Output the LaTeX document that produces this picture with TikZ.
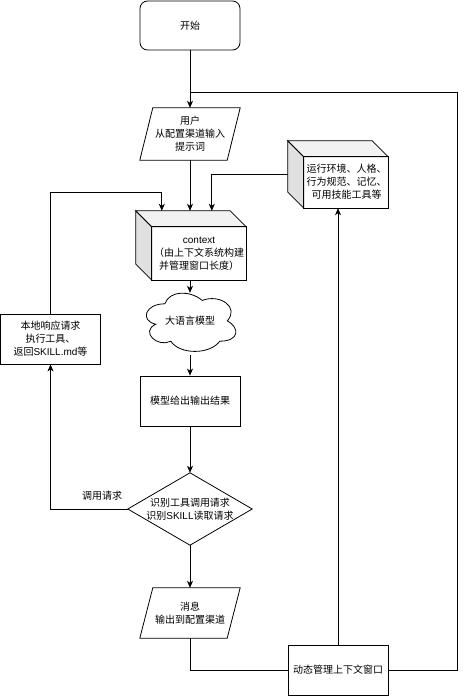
\documentclass[tikz,border=0pt]{standalone}
\usepackage{fontspec}
\setmainfont{Noto Sans CJK SC}
\newfontfamily\lat{Liberation Sans}
\usetikzlibrary{arrows.meta,positioning}

% outline helpers, drawn from the anchors of a plain node
\newcommand{\cubeshape}[2]{%
  \filldraw[ln, fill=black!12] (#1.north west) -- ++(#2,#2) -- ([xshift=#2pt]#1.south west) -- ([yshift=#2pt]#1.south west) -- cycle;
  \filldraw[ln, fill=black!5] (#1.north west) -- ([xshift=-#2pt]#1.north east) -- ([yshift=-#2pt]#1.north east) -- ([shift={(#2,#2)}]#1.north west) -- cycle;
  \draw[ln] ([shift={(#2,#2)}]#1.north west) rectangle (#1.south east);}
\newcommand{\paraShape}[2]{%
  \draw[ln] ([xshift=#2pt]#1.north west) -- (#1.north east) -- ([xshift=-#2pt]#1.south east) -- (#1.south west) -- cycle;}

\tikzset{
  every node/.style={font=\fontsize{10}{13}\selectfont, align=center, inner sep=0pt},
  ln/.style={line width=0.8pt},
  arr/.style={ln, -{Stealth[length=7pt,width=6pt,inset=2pt]}},
  stepbox/.style={draw, ln, minimum width=100pt, minimum height=50pt},
  frame/.style={minimum width=#1},
}

\begin{document}
\begin{tikzpicture}[x=1pt, y=-1pt]
  \useasboundingbox (0,0) rectangle (464,697);

  % nodes
  \node[stepbox, rounded corners=7.5pt, minimum height=49pt] (start) at (190,25.5) {开始};
  \node[frame=100pt, minimum height=52pt] (user) at (190,134) {用户\\从配置渠道输入\\提示词};
  \node[frame=110pt, minimum height=69pt] (ctx) at (191,245.5) {};
  \node (ctxtext) at (199,253.5) {{\lat context}\\（由上下文系统构建\\并管理窗口长度）};
  \node[frame=100pt, minimum height=67pt] (env) at (338,174.5) {};
  \node (envtext) at (346.5,182) {运行环境、人格、\\行为规范、记忆、\\可用技能工具等};
  \node[frame=100pt, minimum height=68pt] (llm) at (190,321) {大语言模型};
  \node[stepbox] (out) at (190,401) {模型给出输出结果};
  \node[frame=124pt, minimum height=72pt] (dec) at (190,509) {识别工具调用请求\\识别{\lat SKILL}读取请求};
  \node[stepbox] (local) at (50.5,339) {本地响应请求\\执行工具、\\返回{\lat SKILL.md}等};
  \node[frame=100pt, minimum height=50pt] (msg) at (190,613) {消息\\输出到配置渠道};
  \node[stepbox] (dyn) at (338,670) {动态管理上下文窗口};
  \node (calllbl) at (102,496) {调用请求};

  % outlines
  \paraShape{user}{13}
  \paraShape{msg}{13}
  \cubeshape{ctx}{16}
  \cubeshape{env}{16}
  \draw[ln] (dec.north) -- (dec.east) -- (dec.south) -- (dec.west) -- cycle;
  \begin{scope}[shift={(llm.north west)}, x=100pt, y=-68pt]
    \draw[ln] (0.25,0.25) .. controls (0.05,0.25) and (0,0.5) .. (0.16,0.55)
      .. controls (0,0.66) and (0.18,0.9) .. (0.31,0.8)
      .. controls (0.4,1) and (0.7,1) .. (0.8,0.8)
      .. controls (1,0.8) and (1,0.6) .. (0.875,0.5)
      .. controls (1,0.3) and (0.8,0.1) .. (0.625,0.2)
      .. controls (0.5,0.05) and (0.3,0.05) .. (0.25,0.25) -- cycle;
  \end{scope}

  % connectors
  \coordinate (loopcorner) at (457,92);
  \coordinate (ctxinL) at ([xshift=26pt]ctx.north west);
  \coordinate (ctxinR) at ([xshift=76pt]ctx.north west);
  \draw[arr] (start) -- (user);
  \draw[ln] (dyn.east) -| (loopcorner) -- (loopcorner -| start.south);
  \draw[arr] (user.south) -- (user.south |- ctx.north);
  \draw[arr] (local.north) |- ([yshift=18pt]ctxinL) -- (ctxinL);
  \draw[arr] (env.west) -| (ctxinR);
  \draw[arr] (llm.north |- ctx.south) -- ([yshift=-6pt]llm.north);
  \draw[arr] (llm.south) -- (out.north);
  \draw[arr] (out) -- (dec);
  \draw[arr] (dec.west) -| (local.south);
  \draw[arr] (dec) -- (msg);
  \draw[ln] (msg.south) |- (dyn.west);
  \draw[arr] (dyn.north) -- (env.south);
\end{tikzpicture}
\end{document}
